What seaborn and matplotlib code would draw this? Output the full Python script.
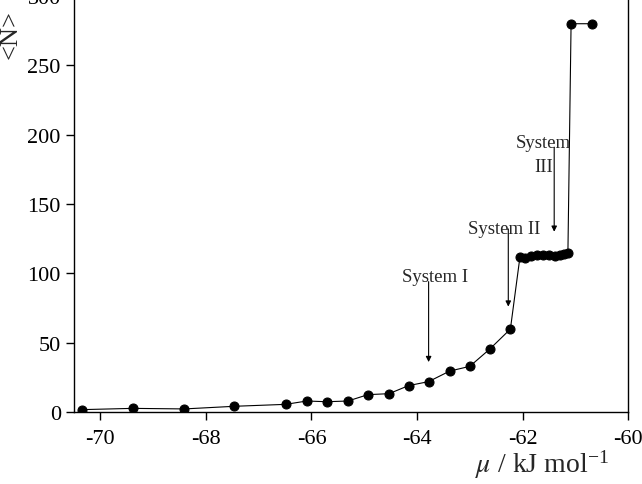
import seaborn as sns
import matplotlib.pyplot as plt
import pandas as pd

# Datos
mu = [-70.34, -69.39, -68.41, -67.46, -66.49, -66.09, -65.71, -65.31, -64.93, -64.53,
      -64.16, -63.78, -63.38, -63.00, -62.62, -62.23,
      -62.05, -61.95, -61.84, -61.73, -61.61, -61.50, -61.39, -61.29, -61.21, -61.14,
      -61.08, -60.68]
n_medio = [1.7, 2.6, 2.2, 4.1, 5.5, 7.9, 7.4, 7.9, 12.5, 13.2,
           19.0, 21.9, 29.5, 32.9, 45.4, 59.8,
           111.5, 111.0, 112.5, 113.5, 113.5, 113.0, 112.5, 113.0, 114.0, 115.0,
           280.0, 280.0]

# etiquetas de los sistemas: (texto, x texto, y texto, x flecha, y inicio, y punta)
sistemas = [
    ("System I", -63.66, 91.5, -63.78, 94, 36),
    ("System II", -62.35, 126, -62.27, 132, 76),
    ("System\nIII", -61.60, 171, -61.40, 191, 130),
]

df = pd.DataFrame({"mu": mu, "N": n_medio})

sns.set_style("ticks")
plt.rcParams["font.family"] = ["Liberation Serif", "DejaVu Serif"]
plt.rcParams["mathtext.fontset"] = "stix"
plt.rcParams["axes.unicode_minus"] = False

fig = plt.figure(figsize=(6.42, 4.85), dpi=100)
ax = fig.add_axes([0.1153, 0.1485, 0.863, 0.8577])

sns.lineplot(data=df, x="mu", y="N", sort=False, color="black", marker="o",
             markersize=6.5, markeredgecolor="black", linewidth=0.8, ax=ax)

for texto, xt, yt, xa, y0, y1 in sistemas:
    ax.text(xt, yt, texto, ha="center", va="bottom", fontsize=13.5, linespacing=1.55)
    ax.annotate("", xy=(xa, y1), xytext=(xa, y0),
                arrowprops=dict(arrowstyle="-|>", lw=0.8, color="black",
                                mutation_scale=8, shrinkA=0, shrinkB=0))

ax.set_xlim(-70.5, -60)
ax.set_ylim(0, 300)
ax.set_xticks([-70, -68, -66, -64, -62, -60])
ax.set_yticks([0, 50, 100, 150, 200, 250, 300])
ax.tick_params(axis="both", direction="out", length=6, width=1, labelsize=16, colors="black")
ax.tick_params(axis="x", pad=6)
for s in ax.spines.values():
    s.set_color("black")
    s.set_linewidth(1)

ax.set_xlabel(r"$\mu$ / kJ mol$^{\mathregular{-1}}$", fontsize=20)
ax.xaxis.set_label_coords(0.845, -0.085)
ax.set_ylabel("<N>", fontsize=19)
ax.yaxis.set_label_coords(-0.094, 0.91)

fig.savefig("out.png", dpi=100)
